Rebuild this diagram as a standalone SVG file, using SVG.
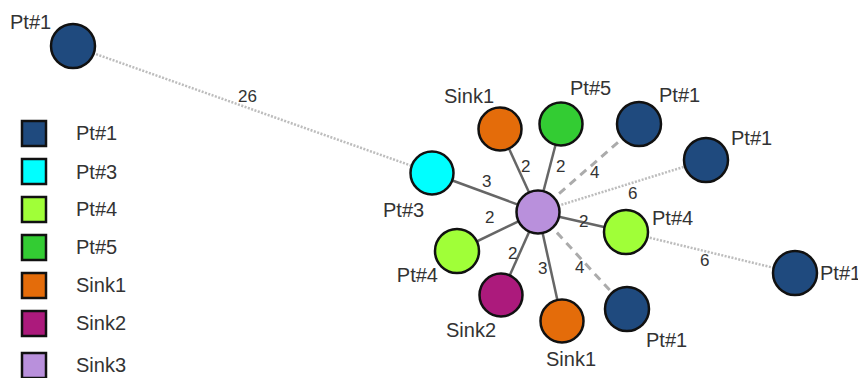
<svg xmlns="http://www.w3.org/2000/svg" width="858" height="378" viewBox="0 0 858 378">
  <style>
    .bg { fill: #ffffff; }
    .node { stroke: #111111; stroke-width: 2.5; }
    .key { stroke: #111111; stroke-width: 2.5; }
    .lbl { font-family: "Liberation Sans", Arial, sans-serif; font-size: 20px; fill: #333333; }
    .elbl { font-family: "Liberation Sans", Arial, sans-serif; font-size: 17px; fill: #333333; }
    .solid { stroke: #666666; stroke-width: 2.5; fill: none; }
    .dashed { stroke: #ababab; stroke-width: 3; stroke-dasharray: 8 6; fill: none; }
    .dotted { stroke: #bdbdbd; stroke-width: 2.5; stroke-dasharray: 2 1.5; fill: none; }
    .pt1 { fill: #1f4a7e; }
    .pt3 { fill: #00ffff; }
    .pt4 { fill: #a0ff38; }
    .pt5 { fill: #33cc33; }
    .sink1 { fill: #e46c0a; }
    .sink2 { fill: #ac1a7c; }
    .sink3 { fill: #b990dc; }
  </style>
  <rect class="bg" x="0" y="0" width="858" height="378"/>

  <!-- connectors -->
  <g id="edges">
    <line class="dotted" x1="73" y1="46" x2="432" y2="173"/>
    <line class="dotted" x1="538" y1="212" x2="706" y2="160"/>
    <line class="dotted" x1="626" y1="232" x2="795" y2="273"/>
    <line class="dashed" x1="538" y1="212" x2="639" y2="124"/>
    <line class="dashed" x1="538" y1="212" x2="627" y2="309"/>
    <line class="solid" x1="538" y1="212" x2="432" y2="173"/>
    <line class="solid" x1="538" y1="212" x2="500" y2="129"/>
    <line class="solid" x1="538" y1="212" x2="561" y2="124"/>
    <line class="solid" x1="538" y1="212" x2="626" y2="232"/>
    <line class="solid" x1="538" y1="212" x2="457" y2="251"/>
    <line class="solid" x1="538" y1="212" x2="501" y2="295"/>
    <line class="solid" x1="538" y1="212" x2="562" y2="321"/>
    <text class="elbl" x="238" y="102">26</text>
    <text class="elbl" x="482" y="187">3</text>
    <text class="elbl" x="521" y="172">2</text>
    <text class="elbl" x="556" y="172">2</text>
    <text class="elbl" x="590" y="178">4</text>
    <text class="elbl" x="628" y="199">6</text>
    <text class="elbl" x="579" y="227">2</text>
    <text class="elbl" x="485" y="223">2</text>
    <text class="elbl" x="508" y="259">2</text>
    <text class="elbl" x="538" y="274">3</text>
    <text class="elbl" x="575" y="273">4</text>
    <text class="elbl" x="700" y="266">6</text>
  </g>

  <!-- nodes -->
  <g id="n-pt1-a"><circle class="node pt1" cx="73" cy="46" r="22"/><text class="lbl" x="10" y="29">Pt#1</text></g>
  <g id="n-pt3"><circle class="node pt3" cx="432" cy="173" r="21.5"/><text class="lbl" x="383" y="217">Pt#3</text></g>
  <g id="n-sink1-a"><circle class="node sink1" cx="500" cy="129" r="21.5"/><text class="lbl" x="444" y="103">Sink1</text></g>
  <g id="n-pt5"><circle class="node pt5" cx="561" cy="124" r="21.5"/><text class="lbl" x="570" y="95">Pt#5</text></g>
  <g id="n-pt1-b"><circle class="node pt1" cx="639" cy="124" r="22"/><text class="lbl" x="659" y="102">Pt#1</text></g>
  <g id="n-pt1-c"><circle class="node pt1" cx="706" cy="160" r="22"/><text class="lbl" x="731" y="145">Pt#1</text></g>
  <g id="n-sink3"><circle class="node sink3" cx="538" cy="212" r="21.5"/></g>
  <g id="n-pt4-a"><circle class="node pt4" cx="626" cy="232" r="22"/><text class="lbl" x="652" y="225">Pt#4</text></g>
  <g id="n-pt4-b"><circle class="node pt4" cx="457" cy="251" r="22"/><text class="lbl" x="438" y="282" text-anchor="end">Pt#4</text></g>
  <g id="n-sink2"><circle class="node sink2" cx="501" cy="295" r="21.5"/><text class="lbl" x="446" y="337">Sink2</text></g>
  <g id="n-sink1-b"><circle class="node sink1" cx="562" cy="321" r="21.5"/><text class="lbl" x="546" y="366">Sink1</text></g>
  <g id="n-pt1-d"><circle class="node pt1" cx="627" cy="309" r="22"/><text class="lbl" x="646" y="347">Pt#1</text></g>
  <g id="n-pt1-e"><circle class="node pt1" cx="795" cy="273" r="22"/><text class="lbl" x="820" y="280">Pt#1</text></g>

  <!-- legend -->
  <g id="legend">
    <rect class="key pt1" x="22" y="121" width="24" height="25"/><text class="lbl" x="76" y="140">Pt#1</text>
    <rect class="key pt3" x="22" y="159" width="24" height="25"/><text class="lbl" x="76" y="179">Pt#3</text>
    <rect class="key pt4" x="22" y="197" width="24" height="25"/><text class="lbl" x="76" y="216">Pt#4</text>
    <rect class="key pt5" x="22" y="235" width="24" height="25"/><text class="lbl" x="76" y="254">Pt#5</text>
    <rect class="key sink1" x="22" y="273" width="24" height="25"/><text class="lbl" x="76" y="292">Sink1</text>
    <rect class="key sink2" x="22" y="311" width="24" height="25"/><text class="lbl" x="76" y="330">Sink2</text>
    <rect class="key sink3" x="22" y="353" width="24" height="25"/><text class="lbl" x="76" y="372">Sink3</text>
  </g>
</svg>
